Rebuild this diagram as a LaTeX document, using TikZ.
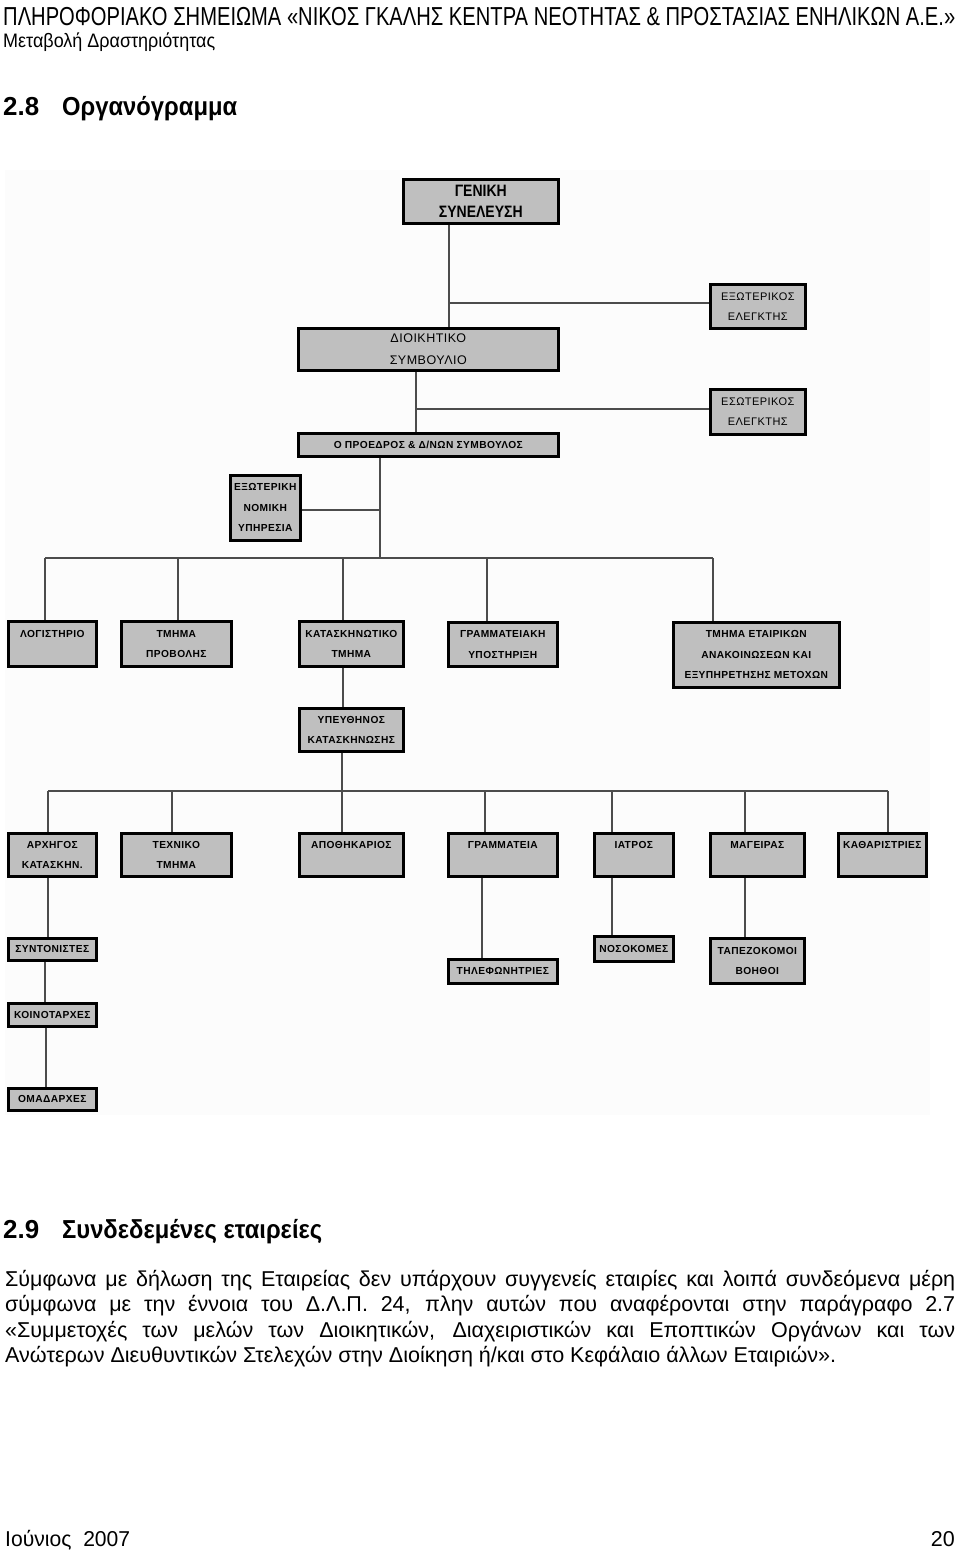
\documentclass[tikz,border=0pt]{standalone}
\usepackage{graphicx}
\usepackage{fontspec}
\setmainfont{Liberation Sans}
\newfontfamily\gsfont[FakeStretch=0.85]{Liberation Sans}
\newfontfamily\chartfont[LetterSpace=4]{Liberation Sans}
\usetikzlibrary{positioning}
\tikzset{
  ob/.style={rectangle,draw=black,line width=2.6pt,fill=black!25,inner sep=0pt,anchor=north west,
    align=center,font=\chartfont\bfseries\fontsize{10.2}{20.5}\selectfont},
  obl/.style={ob,font=\chartfont\fontsize{11}{20}\selectfont},
  ln/.style={draw=black!70,line width=1.6pt},
  pg/.style={inner sep=0pt,anchor=base west},
  pgr/.style={inner sep=0pt,anchor=base east},
  par/.style={pg,font=\fontsize{21.5}{25}\selectfont},
}

\begin{document}
\begin{tikzpicture}[x=1pt,y=-1pt]
\useasboundingbox (0,0) rectangle (960,1552);
\fill[white] (0,0) rectangle (960,1552);
% ============================= page head
\node[pg] (hdr) at (3,26) {\resizebox{952pt}{\height}{\fontsize{26}{30}\selectfont
  ΠΛΗΡΟΦΟΡΙΑΚΟ ΣΗΜΕΙΩΜΑ «ΝΙΚΟΣ ΓΚΑΛΗΣ ΚΕΝΤΡΑ ΝΕΟΤΗΤΑΣ \& ΠΡΟΣΤΑΣΙΑΣ ΕΝΗΛΙΚΩΝ Α.Ε.»}};
\node[pg] (sub) at (3,48) {\resizebox{212pt}{\height}{\fontsize{19.5}{23}\selectfont Μεταβολή Δραστηριότητας}};
\node[pg] (n28) at (3,116) {\resizebox{36pt}{\height}{\bfseries\fontsize{26}{30}\selectfont 2.8}};
\node[pg] (h28) at (62,116) {\resizebox{175pt}{\height}{\bfseries\fontsize{26}{30}\selectfont Οργανόγραμμα}};
% ============================= chart
\fill[black!1] (5,170) rectangle (930,1115);
% top levels
\node[ob,minimum width=155pt,minimum height=44pt,font=\gsfont\bfseries\fontsize{16.5}{21}\selectfont]
  (gs) at (402,178) {ΓΕΝΙΚΗ\\ΣΥΝΕΛΕΥΣΗ};
\node[obl,minimum width=95pt,minimum height=44pt] (eel) at (709,283) {ΕΞΩΤΕΡΙΚΟΣ\\ΕΛΕΓΚΤΗΣ};
\node[obl,minimum width=260pt,minimum height=42pt,font=\chartfont\fontsize{12.5}{22}\selectfont]
  (ds) at (297,327) {ΔΙΟΙΚΗΤΙΚΟ\\ΣΥΜΒΟΥΛΙΟ};
\node[obl,minimum width=95pt,minimum height=45pt] (iel) at (709,388) {ΕΣΩΤΕΡΙΚΟΣ\\ΕΛΕΓΚΤΗΣ};
\node[ob,minimum width=260pt,minimum height=23pt] (pr) at (297,432) {Ο ΠΡΟΕΔΡΟΣ \& Δ/ΝΩΝ ΣΥΜΒΟΥΛΟΣ};
\node[ob,minimum width=70pt,minimum height=65pt] (nom) at (229,474) {ΕΞΩΤΕΡΙΚΗ\\ΝΟΜΙΚΗ\\ΥΠΗΡΕΣΙΑ};
\coordinate (gsx) at (449,303);
\coordinate (dsx) at (416,409);
\coordinate (prx) at (380,510);
\coordinate (b1m) at (380,558);
\draw[ln] (gs.south -| gsx) -- (ds.north -| gsx);
\draw[ln] (gsx) -- (gsx -| eel.west);
\draw[ln] (ds.south -| dsx) -- (pr.north -| dsx);
\draw[ln] (dsx) -- (dsx -| iel.west);
\draw[ln] (pr.south -| b1m) -- (b1m);
\draw[ln] (nom.east |- prx) -- (prx);
% departments
\node[ob,minimum width=88pt,minimum height=45pt] (lgs) at (7,620) {ΛΟΓΙΣΤΗΡΙΟ\\\mbox{}};
\node[ob,minimum width=110pt,minimum height=45pt] (prv) at (120,620) {ΤΜΗΜΑ\\ΠΡΟΒΟΛΗΣ};
\node[ob,minimum width=104pt,minimum height=45pt] (kat) at (298,620) {ΚΑΤΑΣΚΗΝΩΤΙΚΟ\\ΤΜΗΜΑ};
\node[ob,minimum width=109pt,minimum height=44pt] (gry) at (447,621) {ΓΡΑΜΜΑΤΕΙΑΚΗ\\ΥΠΟΣΤΗΡΙΞΗ};
\node[ob,minimum width=166pt,minimum height=65pt] (eta) at (672,621)
  {ΤΜΗΜΑ ΕΤΑΙΡΙΚΩΝ\\ΑΝΑΚΟΙΝΩΣΕΩΝ ΚΑΙ\\ΕΞΥΠΗΡΕΤΗΣΗΣ ΜΕΤΟΧΩΝ};
\draw[ln] (45,558) -- (713,558);
\foreach \x/\n in {45/lgs,178/prv,343/kat,487/gry,713/eta}{
  \coordinate (t) at (\x,558);
  \draw[ln] (t) -- (t |- \n.north);
}
\node[ob,minimum width=104pt,minimum height=43pt] (ypf) at (298,707) {ΥΠΕΥΘΗΝΟΣ\\ΚΑΤΑΣΚΗΝΩΣΗΣ};
\coordinate (kx) at (343,700);
\coordinate (b2m) at (342,791);
\draw[ln] (kat.south -| kx) -- (ypf.north -| kx);
\draw[ln] (ypf.south -| b2m) -- (b2m);
% camp staff
\node[ob,minimum width=88pt,minimum height=43pt] (arx) at (7,832) {ΑΡΧΗΓΟΣ\\ΚΑΤΑΣΚΗΝ.};
\node[ob,minimum width=110pt,minimum height=43pt] (tex) at (120,832) {ΤΕΧΝΙΚΟ\\ΤΜΗΜΑ};
\node[ob,minimum width=104pt,minimum height=43pt] (apo) at (298,832) {ΑΠΟΘΗΚΑΡΙΟΣ\\\mbox{}};
\node[ob,minimum width=109pt,minimum height=43pt] (grm) at (447,832) {ΓΡΑΜΜΑΤΕΙΑ\\\mbox{}};
\node[ob,minimum width=79pt,minimum height=43pt] (iat) at (593,832) {ΙΑΤΡΟΣ\\\mbox{}};
\node[ob,minimum width=94pt,minimum height=43pt] (mag) at (709,832) {ΜΑΓΕΙΡΑΣ\\\mbox{}};
\node[ob,minimum width=88pt,minimum height=43pt] (kth) at (837,832) {ΚΑΘΑΡΙΣΤΡΙΕΣ\\\mbox{}};
\draw[ln] (48,791) -- (888,791);
\foreach \x/\n in {48/arx,172/tex,342/apo,485/grm,612/iat,745/mag,888/kth}{
  \coordinate (t) at (\x,791);
  \draw[ln] (t) -- (t |- \n.north);
}
% under the staff
\node[ob,minimum width=109pt,minimum height=24pt] (tlf) at (447,958) {ΤΗΛΕΦΩΝΗΤΡΙΕΣ};
\node[ob,minimum width=79pt,minimum height=25pt] (nos) at (593,935) {ΝΟΣΟΚΟΜΕΣ};
\node[ob,minimum width=94pt,minimum height=45pt] (tap) at (709,937) {ΤΑΠΕΖΟΚΟΜΟΙ\\ΒΟΗΘΟΙ};
\node[ob,minimum width=88pt,minimum height=22pt] (syn) at (7,937) {ΣΥΝΤΟΝΙΣΤΕΣ};
\node[ob,minimum width=88pt,minimum height=23pt] (koi) at (7,1002) {ΚΟΙΝΟΤΑΡΧΕΣ};
\node[ob,minimum width=88pt,minimum height=22pt] (oma) at (7,1087) {ΟΜΑΔΑΡΧΕΣ};
\coordinate (gx) at (482,900);
\coordinate (ix) at (612,900);
\coordinate (mx) at (745,900);
\coordinate (ax) at (48,900);
\coordinate (sx) at (45,980);
\coordinate (kox) at (46,1050);
\draw[ln] (grm.south -| gx) -- (tlf.north -| gx);
\draw[ln] (iat.south -| ix) -- (nos.north -| ix);
\draw[ln] (mag.south -| mx) -- (tap.north -| mx);
\draw[ln] (arx.south -| ax) -- (syn.north -| ax);
\draw[ln] (syn.south -| sx) -- (koi.north -| sx);
\draw[ln] (koi.south -| kox) -- (oma.north -| kox);
% ============================= 2.9
\node[pg] (n29) at (3,1238) {\resizebox{36pt}{\height}{\bfseries\fontsize{26}{30}\selectfont 2.9}};
\node[pg] (h29) at (62,1238) {\resizebox{260pt}{\height}{\bfseries\fontsize{26}{30}\selectfont Συνδεδεμένες εταιρείες}};
\node[par] (p1) at (5,1286) {\makebox[950pt][s]{Σύμφωνα με δήλωση της Εταιρείας δεν υπάρχουν συγγενείς εταιρίες και λοιπά συνδεόμενα μέρη}};
\node[par] (p2) at (5,1311) {\makebox[950pt][s]{σύμφωνα με την έννοια του Δ.Λ.Π. 24, πλην αυτών που αναφέρονται στην παράγραφο 2.7}};
\node[par] (p3) at (5,1337) {\makebox[950pt][s]{«Συμμετοχές των μελών των Διοικητικών, Διαχειριστικών και Εποπτικών Οργάνων και των}};
\node[par] (p4) at (5,1362) {\resizebox{831pt}{\height}{Ανώτερων Διευθυντικών Στελεχών στην Διοίκηση ή/και στο Κεφάλαιο άλλων Εταιριών».}};
% ============================= foot
\node[pg] (ft) at (5,1546) {\resizebox{125pt}{\height}{\fontsize{21.5}{25}\selectfont Ιούνιος\hspace{12pt}2007}};
\node[pgr] (pn) at (955,1546) {\fontsize{21.5}{25}\selectfont 20};
\end{tikzpicture}
\end{document}
